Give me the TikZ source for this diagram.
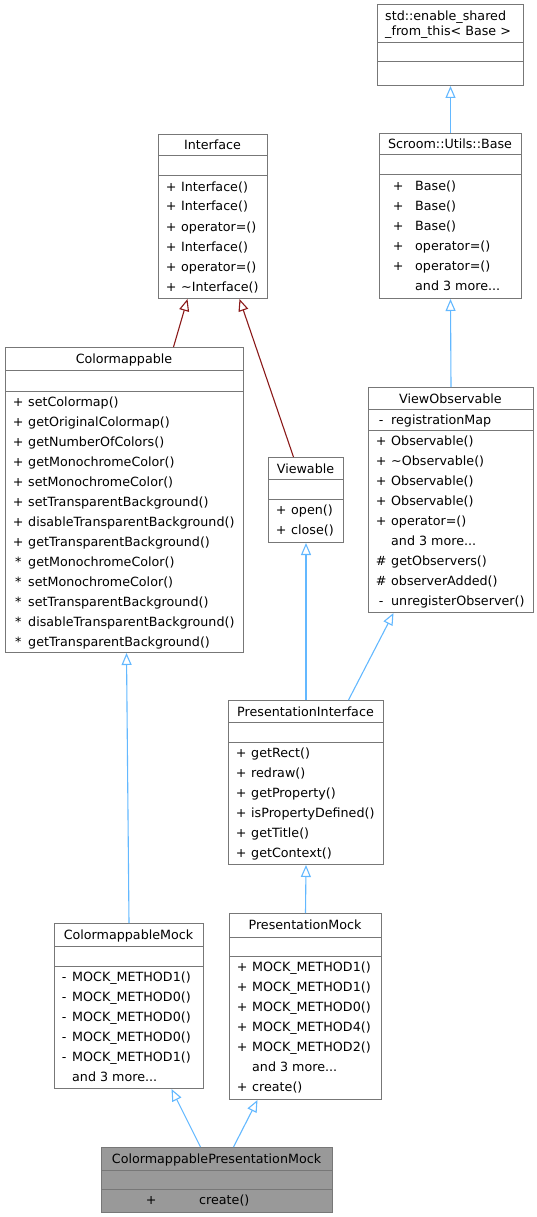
\documentclass[tikz,border=0pt]{standalone}
\usepackage{fontspec}
\setmainfont{DejaVu Sans}
\usetikzlibrary{arrows.meta}
\definecolor{boxgray}{HTML}{777777}
\definecolor{mockgray}{HTML}{999999}
\definecolor{pubblue}{HTML}{63B8FF}
\definecolor{privred}{HTML}{8B1A1A}
\newcommand{\vis}[2][20pt]{\makebox[#1][c]{#2}}

\begin{document}
\begin{tikzpicture}[x=1pt,y=-1pt,
    classbox/.style={draw=boxgray,line width=1pt,fill=white,inner sep=0pt,anchor=north west},
    divider/.style={draw=boxgray,line width=1pt},
    classname/.style={inner sep=0pt,anchor=base,font=\fontsize{12.7}{15}\selectfont},
    member/.style={inner sep=0pt,anchor=base west,font=\fontsize{12.7}{15}\selectfont},
    pubinh/.style={draw=pubblue,line width=1.1pt,-{Triangle[open,length=12pt,width=10pt,fill=white]}},
    privinh/.style={draw=privred,line width=1.1pt,-{Triangle[open,length=12pt,width=10pt,fill=white]}}]
                \useasboundingbox (0,0) rectangle (537,1217);

                % std::enable_shared_from_this< Base >
                \node[classbox,minimum width=146,minimum height=81] (stdesft) at (377,4) {};
                \draw[divider] (377,43) -- (523,43);
                \draw[divider] (377,62) -- (523,62);
                \node[member] (stdesft-t1) at (385,21) {std::enable\_shared};
                \node[member] (stdesft-t2) at (385,36) {\_from\_this< Base >};

                % Scroom::Utils::Base
                \node[classbox,minimum width=142,minimum height=165] (base) at (379,133) {};
                \draw[divider] (379,155) -- (521,155);
                \draw[divider] (379,175) -- (521,175);
                \node[classname] (base-t) at (450,149) {Scroom::Utils::Base};
                \node[member] (base-1) at (381,190) {\vis[34pt]{+}Base()};
                \node[member] (base-2) at (381,210) {\vis[34pt]{+}Base()};
                \node[member] (base-3) at (381,230) {\vis[34pt]{+}Base()};
                \node[member] (base-4) at (381,250) {\vis[34pt]{+}operator=()};
                \node[member] (base-5) at (381,270) {\vis[34pt]{+}operator=()};
                \node[member] (base-6) at (381,290) {\vis[34pt]{}and 3 more...};

                % Interface
                \node[classbox,minimum width=109,minimum height=164] (iface) at (158,134) {};
                \draw[divider] (158,156) -- (267,156);
                \draw[divider] (158,176) -- (267,176);
                \node[classname] (iface-t) at (212.5,150) {Interface};
                \node[member] (iface-1) at (161,191) {\vis{+}Interface()};
                \node[member] (iface-2) at (161,211) {\vis{+}Interface()};
                \node[member] (iface-3) at (161,231) {\vis{+}operator=()};
                \node[member] (iface-4) at (161,251) {\vis{+}Interface()};
                \node[member] (iface-5) at (161,271) {\vis{+}operator=()};
                \node[member] (iface-6) at (161,291) {\vis{+}\textasciitilde Interface()};

                % Colormappable
                \node[classbox,minimum width=238,minimum height=305] (cmap) at (5,347) {};
                \draw[divider] (5,370) -- (243,370);
                \draw[divider] (5,391) -- (243,391);
                \node[classname] (cmap-t) at (124,363) {Colormappable};
                \node[member] (cmap-1) at (8,406) {\vis{+}setColormap()};
                \node[member] (cmap-2) at (8,426) {\vis{+}getOriginalColormap()};
                \node[member] (cmap-3) at (8,446) {\vis{+}getNumberOfColors()};
                \node[member] (cmap-4) at (8,466) {\vis{+}getMonochromeColor()};
                \node[member] (cmap-5) at (8,486) {\vis{+}setMonochromeColor()};
                \node[member] (cmap-6) at (8,506) {\vis{+}setTransparentBackground()};
                \node[member] (cmap-7) at (8,526) {\vis{+}disableTransparentBackground()};
                \node[member] (cmap-8) at (8,546) {\vis{+}getTransparentBackground()};
                \node[member] (cmap-9) at (8,566) {\vis{*}getMonochromeColor()};
                \node[member] (cmap-10) at (8,586) {\vis{*}setMonochromeColor()};
                \node[member] (cmap-11) at (8,606) {\vis{*}setTransparentBackground()};
                \node[member] (cmap-12) at (8,626) {\vis{*}disableTransparentBackground()};
                \node[member] (cmap-13) at (8,646) {\vis{*}getTransparentBackground()};

                % Viewable
                \node[classbox,minimum width=75,minimum height=85] (view) at (268,457) {};
                \draw[divider] (268,479) -- (343,479);
                \draw[divider] (268,499) -- (343,499);
                \node[classname] (view-t) at (305.5,473) {Viewable};
                \node[member] (view-1) at (271,514) {\vis{+}open()};
                \node[member] (view-2) at (271,534) {\vis{+}close()};

                % ViewObservable
                \node[classbox,minimum width=165,minimum height=225] (vobs) at (368,387) {};
                \draw[divider] (368,409) -- (533,409);
                \draw[divider] (368,430) -- (533,430);
                \node[classname] (vobs-t) at (450.5,403) {ViewObservable};
                \node[member] (vobs-a) at (371,424) {\vis{-}registrationMap};
                \node[member] (vobs-1) at (371,445) {\vis{+}Observable()};
                \node[member] (vobs-2) at (371,465) {\vis{+}\textasciitilde Observable()};
                \node[member] (vobs-3) at (371,485) {\vis{+}Observable()};
                \node[member] (vobs-4) at (371,505) {\vis{+}Observable()};
                \node[member] (vobs-5) at (371,525) {\vis{+}operator=()};
                \node[member] (vobs-6) at (371,545) {\vis{}and 3 more...};
                \node[member] (vobs-7) at (371,565) {\vis{\#}getObservers()};
                \node[member] (vobs-8) at (371,585) {\vis{\#}observerAdded()};
                \node[member] (vobs-9) at (371,605) {\vis{-}unregisterObserver()};

                % PresentationInterface
                \node[classbox,minimum width=155,minimum height=164] (pint) at (228,700) {};
                \draw[divider] (228,722) -- (383,722);
                \draw[divider] (228,742) -- (383,742);
                \node[classname] (pint-t) at (305.5,716) {PresentationInterface};
                \node[member] (pint-1) at (231,757) {\vis{+}getRect()};
                \node[member] (pint-2) at (231,777) {\vis{+}redraw()};
                \node[member] (pint-3) at (231,797) {\vis{+}getProperty()};
                \node[member] (pint-4) at (231,817) {\vis{+}isPropertyDefined()};
                \node[member] (pint-5) at (231,837) {\vis{+}getTitle()};
                \node[member] (pint-6) at (231,857) {\vis{+}getContext()};

                % ColormappableMock
                \node[classbox,minimum width=149,minimum height=165] (cmock) at (54,923) {};
                \draw[divider] (54,946) -- (203,946);
                \draw[divider] (54,966) -- (203,966);
                \node[classname] (cmock-t) at (128.5,939) {ColormappableMock};
                \node[member] (cmock-1) at (56,981) {\vis[16pt]{-}MOCK\_METHOD1()};
                \node[member] (cmock-2) at (56,1001) {\vis[16pt]{-}MOCK\_METHOD0()};
                \node[member] (cmock-3) at (56,1021) {\vis[16pt]{-}MOCK\_METHOD0()};
                \node[member] (cmock-4) at (56,1041) {\vis[16pt]{-}MOCK\_METHOD0()};
                \node[member] (cmock-5) at (56,1061) {\vis[16pt]{-}MOCK\_METHOD1()};
                \node[member] (cmock-6) at (56,1081) {\vis[16pt]{}and 3 more...};

                % PresentationMock
                \node[classbox,minimum width=152,minimum height=186] (pmock) at (229,913) {};
                \draw[divider] (229,937) -- (381,937);
                \draw[divider] (229,956) -- (381,956);
                \node[classname] (pmock-t) at (305,929) {PresentationMock};
                \node[member] (pmock-1) at (232,971) {\vis{+}MOCK\_METHOD1()};
                \node[member] (pmock-2) at (232,991) {\vis{+}MOCK\_METHOD1()};
                \node[member] (pmock-3) at (232,1011) {\vis{+}MOCK\_METHOD0()};
                \node[member] (pmock-4) at (232,1031) {\vis{+}MOCK\_METHOD4()};
                \node[member] (pmock-5) at (232,1051) {\vis{+}MOCK\_METHOD2()};
                \node[member] (pmock-6) at (232,1071) {\vis{}and 3 more...};
                \node[member] (pmock-7) at (232,1091) {\vis{+}create()};

                % ColormappablePresentationMock
                \node[classbox,fill=mockgray,minimum width=231,minimum height=65] (cpm) at (101,1147) {};
                \draw[divider] (101,1170) -- (332,1170);
                \draw[divider] (101,1189) -- (332,1189);
                \node[classname] (cpm-t) at (216.5,1163) {ColormappablePresentationMock};
                \node[member] (cpm-1) at (103,1204) {\vis[96pt]{+}create()};

                % inheritance arrows
                \draw[pubinh] (base.north) -- (stdesft.south);
                \draw[pubinh] (vobs.north) -- (base.south);
                \draw[privinh] ([xshift=49]cmap.north) -- ([xshift=-25.5]iface.south);
                \draw[privinh] ([xshift=-12.5]view.north) -- ([xshift=26.5]iface.south);
                \draw[pubinh] (cmock.north) -- ([xshift=2]cmap.south);
                \draw[pubinh] (pint.north) -- (view.south);
                \draw[pubinh] ([xshift=42.5]pint.north) -- ([xshift=-57.5]vobs.south);
                \draw[pubinh] (pmock.north) -- (pint.south);
                \draw[pubinh] ([xshift=-16.5]cpm.north) -- ([xshift=42.5]cmock.south);
                \draw[pubinh] ([xshift=16.5]cpm.north) -- ([xshift=-48]pmock.south);
            \end{tikzpicture}
\end{document}
